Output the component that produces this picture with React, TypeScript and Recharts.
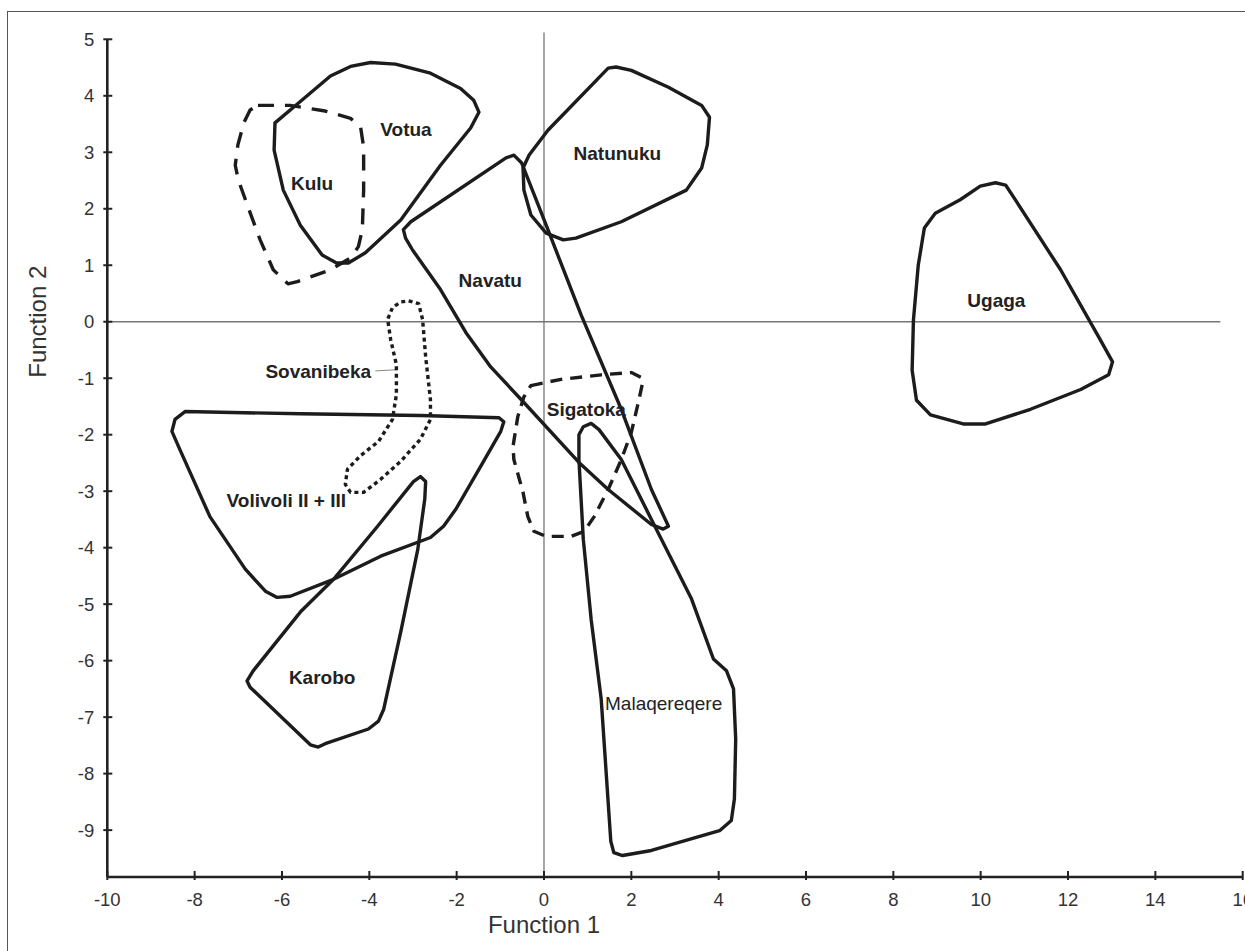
import { ScatterChart, Scatter, XAxis, YAxis, ReferenceLine } from 'recharts'

// Discriminant function scores: convex outlines of each site group
const xTicks = [-10, -8, -6, -4, -2, 0, 2, 4, 6, 8, 10, 12, 14, 16]
const yTicks = [-9, -8, -7, -6, -5, -4, -3, -2, -1, 0, 1, 2, 3, 4, 5]

const votua = [
  [-6.16, 3.52], [-5.58, 3.9], [-4.89, 4.35], [-4.43, 4.52], [-3.97, 4.59], [-3.4, 4.56],
  [-2.6, 4.4], [-1.91, 4.13], [-1.61, 3.92], [-1.49, 3.71], [-1.68, 3.43], [-2.37, 2.77],
  [-3.28, 1.8], [-4.09, 1.22], [-4.48, 1.04], [-4.75, 1.04], [-5.08, 1.18], [-5.58, 1.71],
  [-5.97, 2.33], [-6.18, 3.04],
]
const kulu = [
  [-6.55, 3.83], [-5.81, 3.83], [-5.01, 3.73], [-4.43, 3.6], [-4.2, 3.45], [-4.13, 3.09],
  [-4.13, 2.33], [-4.16, 1.63], [-4.25, 1.33], [-4.43, 1.13], [-4.89, 0.92], [-5.65, 0.71],
  [-5.86, 0.67], [-6.2, 0.92], [-6.5, 1.45], [-6.73, 1.93], [-7.0, 2.51], [-7.07, 2.77],
  [-7.01, 3.13], [-6.87, 3.53], [-6.73, 3.75],
]
const natunuku = [
  [1.47, 4.49], [1.65, 4.51], [2.0, 4.45], [2.85, 4.15], [3.61, 3.83], [3.79, 3.62],
  [3.74, 3.13], [3.61, 2.72], [3.26, 2.33], [1.77, 1.77], [0.73, 1.48], [0.44, 1.45],
  [0.05, 1.57], [-0.3, 1.89], [-0.46, 2.33], [-0.48, 2.72], [-0.34, 2.95], [0.09, 3.39],
]
const navatu = [
  [-0.69, 2.95], [-0.51, 2.81], [0.05, 1.71], [0.85, 0.12], [1.77, -1.55], [2.46, -2.97],
  [2.85, -3.62], [2.73, -3.67], [2.46, -3.59], [1.47, -2.97], [0.8, -2.49], [-0.46, -1.43],
  [-1.22, -0.8], [-1.79, -0.19], [-2.37, 0.57], [-3.01, 1.27], [-3.17, 1.48], [-3.22, 1.63],
  [-3.05, 1.77], [-0.87, 2.9],
]
const ugaga = [
  [10.34, 2.46], [10.57, 2.42], [10.75, 2.21], [11.83, 0.92], [12.74, -0.32], [13.02, -0.71],
  [12.93, -0.94], [12.29, -1.2], [11.14, -1.55], [10.11, -1.81], [9.6, -1.81], [8.85, -1.65],
  [8.53, -1.39], [8.43, -0.86], [8.46, 0.03], [8.57, 1.0], [8.71, 1.66], [8.96, 1.92],
  [9.53, 2.16], [9.99, 2.4],
]
const sovanibeka = [
  [-3.1, 0.37], [-2.87, 0.32], [-2.78, 0.04], [-2.71, -0.62], [-2.6, -1.38], [-2.6, -1.73],
  [-2.83, -2.08], [-3.28, -2.47], [-3.74, -2.79], [-4.13, -3.02], [-4.43, -3.02], [-4.55, -2.88],
  [-4.5, -2.61], [-4.2, -2.37], [-3.79, -2.12], [-3.47, -1.73], [-3.38, -1.29], [-3.38, -0.76],
  [-3.51, -0.32], [-3.58, 0.04], [-3.47, 0.25], [-3.28, 0.35],
]
const volivoli = [
  [-8.22, -1.59], [-5.58, -1.63], [-2.83, -1.66], [-1.03, -1.7], [-0.92, -1.77], [-0.99, -1.94],
  [-1.45, -2.56], [-2.02, -3.32], [-2.3, -3.62], [-2.6, -3.82], [-3.74, -4.15], [-4.82, -4.56],
  [-5.81, -4.86], [-6.11, -4.88], [-6.38, -4.77], [-6.84, -4.38], [-7.65, -3.45], [-8.34, -2.26],
  [-8.52, -1.94], [-8.45, -1.73],
]
const karobo = [
  [-2.83, -2.74], [-2.71, -2.83], [-2.73, -3.14], [-2.89, -4.03], [-3.28, -5.49], [-3.67, -6.86],
  [-3.79, -7.07], [-4.02, -7.21], [-5.01, -7.47], [-5.17, -7.53], [-5.35, -7.49], [-6.73, -6.47],
  [-6.8, -6.36], [-6.66, -6.18], [-5.58, -5.14], [-4.82, -4.56], [-3.81, -3.62], [-2.99, -2.83],
]
const sigatoka = [
  [-0.3, -1.13], [0.39, -1.02], [1.31, -0.94], [2.0, -0.9], [2.23, -0.99], [2.25, -1.11],
  [2.16, -1.43], [2.0, -1.96], [1.77, -2.44], [1.47, -2.97], [1.15, -3.45], [0.92, -3.71],
  [0.62, -3.8], [0.05, -3.8], [-0.23, -3.71], [-0.37, -3.45], [-0.48, -3.02], [-0.69, -2.44],
  [-0.71, -2.21], [-0.6, -1.68], [-0.46, -1.33],
]
const malaqereqere = [
  [1.08, -1.8], [1.26, -1.91], [1.77, -2.44], [2.46, -3.5], [3.38, -4.91], [3.88, -5.97],
  [4.18, -6.18], [4.34, -6.5], [4.39, -7.39], [4.36, -8.45], [4.29, -8.83], [4.02, -9.01],
  [2.46, -9.36], [1.8, -9.45], [1.6, -9.4], [1.53, -9.2], [1.31, -6.68], [1.08, -5.27],
  [0.9, -3.85], [0.8, -2.44], [0.8, -2.0], [0.9, -1.86],
]

const labelNames = ['Votua', 'Kulu', 'Natunuku', 'Navatu', 'Ugaga', 'Sovanibeka', 'Sigatoka', 'Volivoli II + III', 'Karobo', 'Malaqereqere']
const labelX = [-3.16, -5.31, 1.68, -1.23, 10.36, -5.17, 0.97, -5.9, -5.08, 2.74]
const labelY = [3.41, 2.46, 2.99, 0.74, 0.38, -0.87, -1.55, -3.16, -6.29, -6.76]
const labelBold = [true, true, true, true, true, true, true, true, true, false]

const FONT = '"Liberation Sans", Arial, Helvetica, sans-serif'
const INK = '#1c1c1c'

const hulls = [
  { key: 'votua', pts: votua, dash: undefined },
  { key: 'kulu', pts: kulu, dash: '16 11' },
  { key: 'natunuku', pts: natunuku, dash: undefined },
  { key: 'navatu', pts: navatu, dash: undefined },
  { key: 'ugaga', pts: ugaga, dash: undefined },
  { key: 'sovanibeka', pts: sovanibeka, dash: '4 3.5' },
  { key: 'volivoli', pts: volivoli, dash: undefined },
  { key: 'karobo', pts: karobo, dash: undefined },
  { key: 'sigatoka', pts: sigatoka, dash: '12 8' },
  { key: 'malaqereqere', pts: malaqereqere, dash: undefined },
]

const labelData = labelNames.map((name, i) => ({ x: labelX[i], y: labelY[i], name, bold: labelBold[i] }))
const titleData = [
  { x: 0, y: -9.83, name: 'Function 1', rot: false },
  { x: -10, y: 0, name: 'Function 2', rot: true },
]

const noPoint = () => <g />

function XTick({ x, y, payload }: any) {
  return (
    <g>
      <line x1={x} x2={x} y1={y - 6} y2={y + 3} stroke="#222" strokeWidth={2} />
      <text x={x} y={y + 29} textAnchor="middle" fontSize={18.5} fill="#333" fontFamily={FONT}>
        {payload.value}
      </text>
    </g>
  )
}

function YTick({ x, y, payload }: any) {
  return (
    <g>
      <line x1={x - 4} x2={x + 5} y1={y} y2={y} stroke="#222" strokeWidth={2} />
      <text x={x - 13} y={y + 6.5} textAnchor="end" fontSize={18.5} fill="#333" fontFamily={FONT}>
        {payload.value}
      </text>
    </g>
  )
}

function RegionLabel(p: any) {
  const fs = 19
  return (
    <text x={p.cx} y={p.cy + fs * 0.36} textAnchor="middle" fontSize={fs} fontWeight={p.payload.bold ? 700 : 400}
      fill="#222" fontFamily={FONT}>
      {p.payload.name}
    </text>
  )
}

function AxisTitle(p: any) {
  if (p.payload.rot) {
    return (
      <text x={p.cx - 61} y={p.cy} transform={`rotate(-90 ${p.cx - 61} ${p.cy})`} textAnchor="middle"
        fontSize={24} fill="#333" fontFamily={FONT}>
        {p.payload.name}
      </text>
    )
  }
  return (
    <text x={p.cx} y={p.cy + 55.5} textAnchor="middle" fontSize={24} fill="#333" fontFamily={FONT}>
      {p.payload.name}
    </text>
  )
}

export default function App() {
  return (
    <div style={{ position: 'absolute', left: 0, top: 0, width: 1245, height: 951, overflow: 'hidden', background: '#fff' }}>
      <div style={{ position: 'absolute', left: 7, top: 11, width: 1245, height: 951, borderLeft: '1.5px solid #555', borderTop: '1.5px solid #555' }} />
      <div style={{ position: 'absolute', left: 0, top: 0 }}>
        <ScatterChart width={1262} height={951} margin={{ top: 39.3, right: 19.3, bottom: 0, left: 0 }}>
          <XAxis type="number" dataKey="x" domain={[-10, 16]} ticks={xTicks}
            height={74} tickSize={0} tickMargin={0} tickLine={false} tick={<XTick />}
            axisLine={{ stroke: '#222', strokeWidth: 2.6 }} />
          <YAxis type="number" dataKey="y" domain={[-9.83, 5]} ticks={yTicks}
            width={107.3} tickSize={0} tickMargin={0} tickLine={false} tick={<YTick />}
            axisLine={{ stroke: '#222', strokeWidth: 2.6 }} />
          <ReferenceLine segment={[{ x: 0, y: 5.12 }, { x: 0, y: -9.83 }]} stroke="#777" strokeWidth={1.3} ifOverflow="visible" />
          <ReferenceLine segment={[{ x: -10, y: 0 }, { x: 15.49, y: 0 }]} stroke="#777" strokeWidth={1.3} ifOverflow="visible" />
          <ReferenceLine segment={[{ x: -3.86, y: -0.87 }, { x: -3.36, y: -0.85 }]} stroke="#888" strokeWidth={1} ifOverflow="visible" />
          {hulls.map(h => (
            <Scatter key={h.key} data={h.pts.map(([x, y]) => ({ x, y }))} shape={noPoint}
              line={{ stroke: INK, strokeWidth: 3.4, strokeDasharray: h.dash, strokeLinejoin: 'round' }}
              lineType="joint" lineJointType="linearClosed" isAnimationActive={false} />
          ))}
          <Scatter data={labelData} shape={RegionLabel} isAnimationActive={false} />
          <Scatter data={titleData} shape={AxisTitle} isAnimationActive={false} />
        </ScatterChart>
      </div>
    </div>
  )
}
